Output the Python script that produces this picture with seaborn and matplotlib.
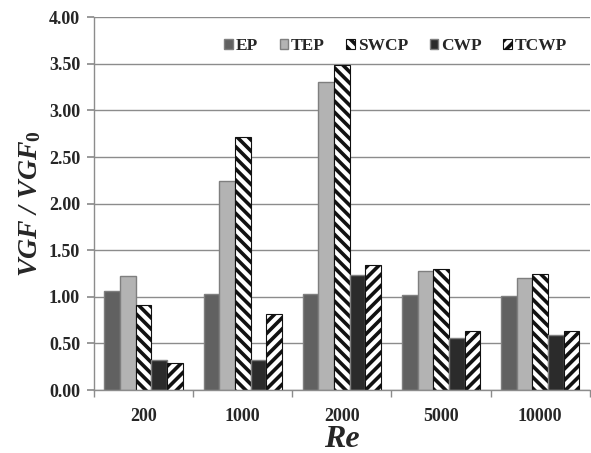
import pandas as pd
import matplotlib.pyplot as plt
import seaborn as sns

sns.set_theme(style="white")
plt.rcParams["font.family"] = ["Liberation Serif", "DejaVu Serif"]
plt.rcParams["hatch.linewidth"] = 2.6
plt.rcParams["mathtext.fontset"] = "custom"
plt.rcParams["mathtext.it"] = "Liberation Serif:italic:bold"
plt.rcParams["mathtext.rm"] = "Liberation Serif:bold"

# Data
re_labels = ["200", "1000", "2000", "5000", "10000"]
series = ["EP", "TEP", "SWCP", "CWP", "TCWP"]
ep = [1.06, 1.03, 1.03, 1.02, 1.01]
tep = [1.22, 2.24, 3.31, 1.28, 1.20]
swcp = [0.91, 2.72, 3.49, 1.30, 1.24]
cwp = [0.32, 0.32, 1.23, 0.56, 0.59]
tcwp = [0.29, 0.82, 1.34, 0.63, 0.63]

colors = ["#616161", "#b3b3b3", "#ffffff", "#2b2b2b", "#ffffff"]
hatches = [None, None, "\\\\\\", None, "///"]

rows = []
for name, vals in zip(series, [ep, tep, swcp, cwp, tcwp]):
    for re, v in zip(re_labels, vals):
        rows.append({"Re": re, "series": name, "value": v})
df = pd.DataFrame(rows)

fig, ax = plt.subplots(figsize=(5.91, 4.53), dpi=100)
fig.subplots_adjust(left=0.159, right=0.998, top=0.962, bottom=0.139)

sns.barplot(data=df, x="Re", y="value", hue="series", order=re_labels,
            hue_order=series, palette=colors, width=0.79, saturation=1,
            edgecolor="#7f7f7f", linewidth=1.0, legend=False, ax=ax)

for cont, h in zip(ax.containers, hatches):
    for p in cont.patches:
        if h:
            p.set_hatch(h)
            p.set_edgecolor("#111111")
            p.set_linewidth(0.8)

ax.set_ylim(0, 4.0)
ax.set_xlim(-0.5, len(re_labels) - 0.5)
ax.set_yticks([i * 0.5 for i in range(9)])
ax.set_yticklabels([f"{i * 0.5:.2f}" for i in range(9)])
ax.yaxis.grid(True, color="#8c8c8c", linewidth=1.0)
ax.set_axisbelow(True)

for s in ["top", "right"]:
    ax.spines[s].set_visible(False)
for s in ["left", "bottom"]:
    ax.spines[s].set_color("#8c8c8c")
    ax.spines[s].set_linewidth(1.0)

ax.tick_params(axis="y", left=True, length=5, color="#8c8c8c", pad=5)
ax.tick_params(axis="x", bottom=False, pad=7)
ax.set_xticks([i + 0.5 for i in range(-1, len(re_labels))], minor=True)
ax.tick_params(axis="x", which="minor", bottom=True, length=5, color="#8c8c8c")

for lab in ax.get_xticklabels() + ax.get_yticklabels():
    lab.set_fontweight("bold")
    lab.set_fontsize(13)

ax.set_xlabel("Re", fontsize=23, fontweight="bold", fontstyle="italic", labelpad=0)
ax.set_ylabel(r"VGF / VGF$_{\mathit{0}}$", fontsize=20, fontweight="bold",
              fontstyle="italic", labelpad=4)

ax.legend(ax.containers, series, loc="upper right", ncol=5, frameon=False,
          handlelength=0.5, handleheight=0.5, handletextpad=0.15,
          columnspacing=1.25, bbox_to_anchor=(0.985, 0.985),
          prop={"weight": "bold", "size": 12.5})

plt.savefig("out.png", dpi=100)
